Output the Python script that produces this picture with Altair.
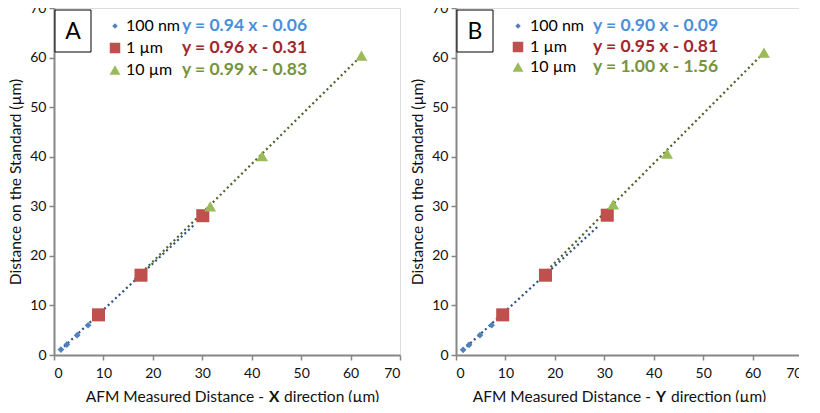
import altair as alt
import pandas as pd

# ---------------- data ----------------
series_names = ["100 nm", "1 µm", "10 µm"]

A_nm_x = [1.4, 2.6, 4.7, 6.9]
A_nm_y = [1.1, 2.1, 4.0, 6.0]
A_um_x = [9.0, 17.6, 30.1]
A_um_y = [8.1, 16.1, 28.1]
A_10_x = [31.6, 42.1, 62.2]
A_10_y = [30.0, 40.1, 60.4]

B_nm_x = [1.45, 2.65, 4.85, 7.2]
B_nm_y = [1.05, 2.05, 4.0, 6.0]
B_um_x = [9.45, 18.1, 30.6]
B_um_y = [8.1, 16.1, 28.2]
B_10_x = [31.8, 42.7, 62.3]
B_10_y = [30.4, 40.6, 61.0]

# trendline end points
A_trend_nm_x = [1.3, 28.4]
A_trend_nm_y = [1.0, 26.3]
A_trend_10_x = [16.3, 62.2]
A_trend_10_y = [15.2, 60.4]
B_trend_nm_x = [1.4, 28.9]
B_trend_nm_y = [1.0, 26.1]
B_trend_10_x = [17.0, 62.3]
B_trend_10_y = [15.6, 61.0]

A_equations = ["y = 0.94 x - 0.06", "y = 0.96 x - 0.31", "y = 0.99 x - 0.83"]
B_equations = ["y = 0.90 x - 0.09", "y = 0.95 x - 0.81", "y = 1.00 x - 1.56"]

ticks = [0, 10, 20, 30, 40, 50, 60, 70]

# ---------------- styles ----------------
FONT = "Lato"
W, H = 346, 347
marker_colors = ["#4F81BD", "#C0504D", "#9BBB59"]
eq_colors = ["#4A8FDB", "#A0282C", "#77933C"]
trend_colors = ["#2C5282", "#4F6228"]
shapes = ["diamond", "square", "triangle-up"]
sizes = [45, 170, 140]
GRAY = "#868686"
TXT = "#111111"

xscale = alt.Scale(domain=[0, 70], nice=False, zero=False)
yscale = alt.Scale(domain=[0, 70], nice=False, zero=False)


def txt(value, x, y, **kw):
    return alt.Chart(pd.DataFrame({"k": [value]})).mark_text(font=FONT, **kw).encode(
        text="k:N", x=alt.value(x), y=alt.value(y))


def panel(letter, xs, ys, trends, equations, axis_letter, xoff, rows):
    layers = []
    for (tx, ty), col in zip(trends, trend_colors):
        df = pd.DataFrame({"x": tx, "y": ty})
        layers.append(
            alt.Chart(df).mark_line(strokeDash=[2, 3], strokeWidth=2.2, color=col)
            .encode(
                x=alt.X("x:Q", scale=xscale,
                        axis=alt.Axis(values=ticks, title=None, grid=False,
                                      domainColor=GRAY, domainWidth=2,
                                      tickColor=GRAY, tickSize=5, tickWidth=1.5,
                                      labelFont=FONT, labelFontSize=14,
                                      labelColor=TXT, labelPadding=6)),
                y=alt.Y("y:Q", scale=yscale,
                        axis=alt.Axis(values=ticks, title="Distance on the Standard (µm)",
                                      grid=False, domainColor=GRAY, domainWidth=2,
                                      tickColor=GRAY, tickSize=5, tickWidth=1.5,
                                      labelFont=FONT, labelFontSize=14,
                                      labelColor=TXT, labelPadding=3,
                                      titleFont=FONT, titleFontSize=15.5,
                                      titleFontWeight="normal", titleColor=TXT,
                                      titlePadding=6)),
            )
        )
    for i, (px, py) in enumerate(zip(xs, ys)):
        df = pd.DataFrame({"x": px, "y": py, "series": series_names[i]})
        layers.append(
            alt.Chart(df).mark_point(shape=shapes[i], filled=True, opacity=1,
                                     size=sizes[i], color=marker_colors[i])
            .encode(x=alt.X("x:Q", scale=xscale), y=alt.Y("y:Q", scale=yscale))
        )
    # letter box
    layers.append(
        alt.Chart(pd.DataFrame({"k": [letter]})).mark_rect(
            fill="white", stroke="black", strokeWidth=1)
        .encode(x=alt.value(1), x2=alt.value(37), y=alt.value(2), y2=alt.value(44))
    )
    layers.append(txt(letter, 19, 24, fontSize=23, color="black",
                      baseline="middle", align="center"))
    # legend
    for i in range(3):
        layers.append(
            alt.Chart(pd.DataFrame({"k": [series_names[i]]})).mark_point(
                shape=shapes[i], filled=True, opacity=1,
                size=[30, 110, 120][i], color=marker_colors[i])
            .encode(x=alt.value(xoff[0]), y=alt.value(rows[i]))
        )
        layers.append(txt(series_names[i], xoff[1], rows[i], fontSize=16,
                          color="black", align="left", baseline="middle"))
        layers.append(txt(equations[i], xoff[2], rows[i], fontSize=17.5,
                          fontWeight="bold", color=eq_colors[i],
                          align="left", baseline="middle"))
    # x-axis title with bold direction letter
    cx = xoff[3]
    ty = H + 42
    layers.append(txt("AFM Measured Distance -", cx - 5, ty, fontSize=15.5,
                      color=TXT, align="right", baseline="middle"))
    layers.append(txt(axis_letter, cx, ty, fontSize=15.5, fontWeight="bold",
                      color=TXT, align="left", baseline="middle"))
    layers.append(txt("direction (µm)", cx + 15, ty, fontSize=15.5,
                      color=TXT, align="left", baseline="middle"))
    return alt.layer(*layers).properties(width=W, height=H)


pA = panel("A",
           [A_nm_x, A_um_x, A_10_x], [A_nm_y, A_um_y, A_10_y],
           [(A_trend_nm_x, A_trend_nm_y), (A_trend_10_x, A_trend_10_y)],
           A_equations, "X", (61, 72, 128, 215), (18, 40, 62))
pB = panel("B",
           [B_nm_x, B_um_x, B_10_x], [B_nm_y, B_um_y, B_10_y],
           [(B_trend_nm_x, B_trend_nm_y), (B_trend_10_x, B_trend_10_y)],
           B_equations, "Y", (62, 74, 137, 200), (18, 39, 59))

chart = alt.hconcat(pA, pB, spacing=8).configure_view(
    stroke=GRAY, strokeWidth=2
).configure(background="white",
            padding={"left": 0, "top": -8, "right": -5, "bottom": -4})

chart.save("out.html", embed_options={"renderer": "svg", "actions": False})
